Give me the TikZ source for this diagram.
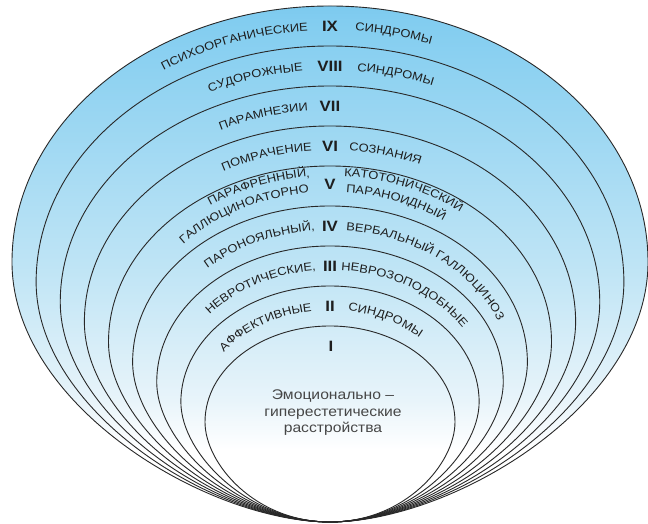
\documentclass[tikz,border=0pt]{standalone}
\usepackage{fontspec}
\setmainfont[FakeStretch=1.12]{Liberation Sans}
\usetikzlibrary{decorations.text}
\definecolor{skyT}{RGB}{125,202,239}
\definecolor{skyU}{RGB}{130,205,240}
\definecolor{skyM}{RGB}{190,228,245}
\definecolor{skyL}{RGB}{232,244,250}
\definecolor{lineC}{RGB}{40,40,40}
\definecolor{txtC}{RGB}{30,30,30}
\definecolor{ctrC}{RGB}{70,70,70}
\pgfdeclareverticalshading{ringfade}{100bp}{color(0bp)=(white); color(25bp)=(white); color(32bp)=(white); color(36.8bp)=(skyL); color(50bp)=(skyM); color(73.6bp)=(skyU); color(75bp)=(skyT); color(100bp)=(skyT)}
\newcommand\rw{\fontsize{11.5}{12}\selectfont\color{txtC}}
\newcommand\nf{\fontsize{15}{16}\selectfont\bfseries\color{txtC}}
% left word: a b cY xend text
\newcommand\lword[5]{%
  \path[decorate,decoration={text along path,text align=right,text={|\rw|#5}}]
    ({330+#1*cos(200)},{#3+#2*sin(200)}) arc[start angle=200,end angle={acos((#4-330)/#1)},x radius=#1,y radius=#2];}
% right word: a b cY xstart text
\newcommand\rword[5]{%
  \path[decorate,decoration={text along path,text align=left,text={|\rw|#5}}]
    ({#4},{#3+#2*sin(acos((#4-330)/#1))}) arc[start angle={acos((#4-330)/#1)},end angle=-50,x radius=#1,y radius=#2];}
% egg outline: #1 half width, #2 widest level, #3 top, #4 bottom handle, #5 side handle factor
\newcommand\eggpath[5]{%
  (330,2) .. controls ({330-#4},2) and ({330-#1},{#2-#5*(#2-2)}) .. ({330-#1},#2)
  .. controls ({330-#1},{#2+0.5523*(#3-#2)}) and ({330-0.5523*#1},#3) .. (330,#3)
  .. controls ({330+0.5523*#1},#3) and ({330+#1},{#2+0.5523*(#3-#2)}) .. ({330+#1},#2)
  .. controls ({330+#1},{#2-#5*(#2-2)}) and ({330+#4},2) .. (330,2) -- cycle}
\tikzset{
  ringline/.style={draw=lineC,line width=0.9pt},
  numeral/.style={inner sep=0pt,font=\nf},
  centertext/.style={inner sep=0pt,align=center,text=ctrC,font=\fontsize{14}{16.5}\selectfont}
}
\begin{document}
\begin{tikzpicture}[x=1pt,y=1pt]
\useasboundingbox (0,0) rectangle (648,524);
% filled outer shape
\shade[shading=ringfade] \eggpath{318}{262}{518}{122}{0.553};
% nested shapes
\foreach \i in {1,...,9}{
  \pgfmathsetmacro\aa{100.875+24.125*\i}
  \pgfmathsetmacro\yt{158+40*\i}
  \pgfmathsetmacro\yw{82+20*\i}
  \pgfmathsetmacro\hh{69+5.9*\i}
  \pgfmathsetmacro\al{0.40+0.017*\i}
  \draw[ringline] \eggpath{\aa}{\yw}{\yt}{\hh}{\al};
}
% numerals
\node[numeral] (n9) at (330,498) {IX};
\node[numeral] (n8) at (330,458) {VIII};
\node[numeral] (n7) at (330,418) {VII};
\node[numeral] (n6) at (330,378) {VI};
\node[numeral] (n5) at (330,340) {V};
\node[numeral] (n4) at (330,298) {IV};
\node[numeral] (n3) at (330,258) {III};
\node[numeral] (n2) at (330,218) {II};
\node[numeral] (n1) at (331,178) {I};
% words
\lword{302}{246}{248}{308}{ПСИХООРГАНИЧЕСКИЕ}
\rword{302}{246}{248}{355}{СИНДРОМЫ}
\lword{277.9}{226}{228}{303}{СУДОРОЖНЫЕ}
\rword{277.9}{226}{228}{357}{СИНДРОМЫ}
\lword{253.75}{206}{208}{308}{ПАРАМНЕЗИИ}
\lword{229.6}{186}{188}{312}{ПОМРАЧЕНИЕ}
\rword{229.6}{186}{188}{349}{СОЗНАНИЯ}
\lword{214}{173}{175}{310}{ПАРАФРЕННЫЙ,}
\rword{214}{173}{175}{344}{КАТОТОНИЧЕСКИЙ}
\lword{201}{165}{167}{309}{ГАЛЛЮЦИНОАТОРНО}
\rword{201}{165}{167}{346}{ПАРАНОИДНЫЙ}
\lword{181.4}{146}{148}{315}{ПАРОНОЯЛЬНЫЙ,}
\rword{181.4}{146}{148}{346}{ВЕРБАЛЬНЫЙ ГАЛЛЮЦИНОЗ}
\lword{157.25}{126}{128}{316}{НЕВРОТИЧЕСКИЕ,}
\rword{157.25}{126}{128}{341}{НЕВРОЗОПОДОБНЫЕ}
\lword{133.1}{106}{108}{312}{АФФЕКТИВНЫЕ}
\rword{133.1}{106}{108}{348}{СИНДРОМЫ}
% centre text
\node[centertext] (ctr) at (333,111) {Эмоционально –\\гиперестетические\\расстройства};
\end{tikzpicture}
\end{document}
